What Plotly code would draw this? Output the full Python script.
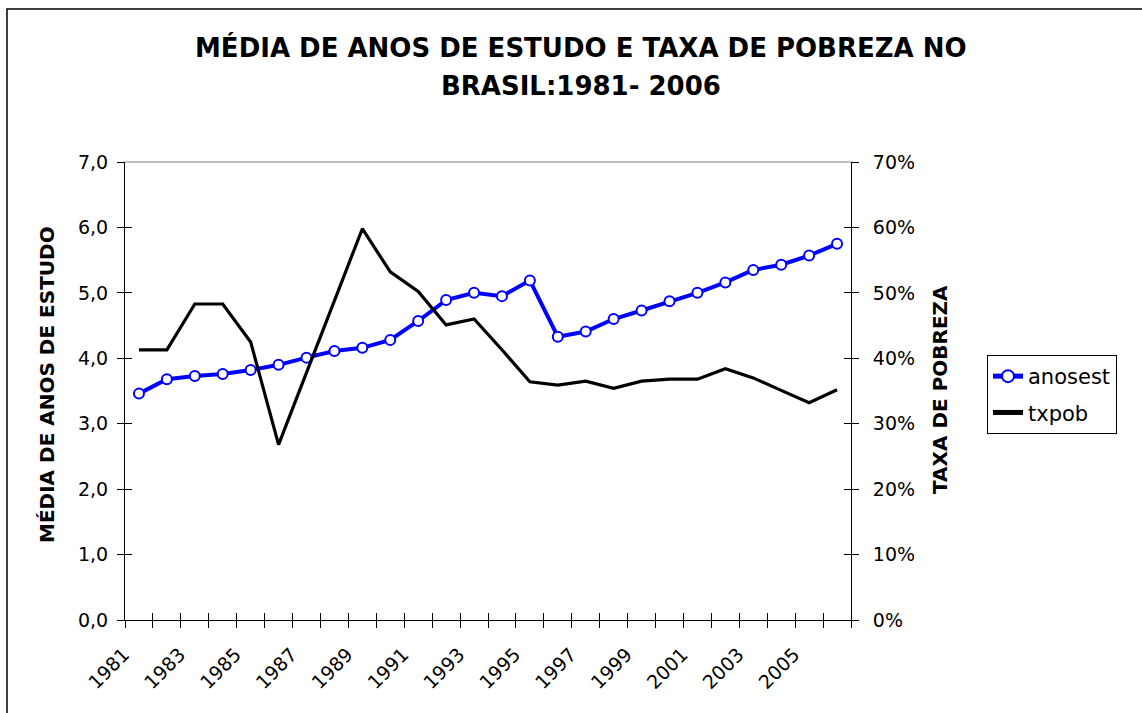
import plotly.graph_objects as go

# ---- data ----
years = list(range(1981, 2007))
anosest = [3.46, 3.68, 3.73, 3.76, 3.82, 3.90, 4.01, 4.11, 4.16, 4.28, 4.57, 4.89, 5.00,
           4.95, 5.19, 4.33, 4.41, 4.60, 4.73, 4.87, 5.00, 5.16, 5.35, 5.43, 5.57, 5.75]
txpob = [41.3, 41.3, 48.3, 48.3, 42.5, 26.8, 37.8, 48.9, 59.8, 53.2, 50.2, 45.1, 46.0,
         41.3, 36.4, 35.9, 36.5, 35.4, 36.5, 36.8, 36.8, 38.4, 37.0, 35.1, 33.2, 35.2]
label_years = years[::2]
x_labels = [str(y) for y in label_years]
left_ticks = [0, 1, 2, 3, 4, 5, 6, 7]
right_ticks = [0, 10, 20, 30, 40, 50, 60, 70]
right_labels = ["%d%%" % v for v in right_ticks]

title_l1 = "MÉDIA DE ANOS DE ESTUDO E TAXA DE POBREZA NO"
title_l2 = "BRASIL:1981- 2006"
ytitle_left = "MÉDIA DE ANOS DE ESTUDO"
ytitle_right = "TAXA DE POBREZA"

FONT = "DejaVu Sans, Liberation Sans, Arial, sans-serif"
W, H = 1142, 713
L, R, T, B = 125, 291, 162, 93
PW, PH = W - L - R, H - T - B


def px(p):
    return (p - L) / PW


def py(q):
    return (H - B - q) / PH


fig = go.Figure()
fig.add_trace(go.Scatter(
    x=years, y=anosest, name="anosest", mode="lines+markers", legendgroup="a",
    line=dict(color="#0000FF", width=4),
    marker=dict(symbol="circle", size=10, color="white",
                line=dict(color="#0000FF", width=2)),
    yaxis="y"))
fig.add_trace(go.Scatter(
    x=years, y=txpob, name="txpob", mode="lines", legendgroup="b",
    line=dict(color="black", width=3.2), yaxis="y2"))
# empty helper traces only used to display the inner half of the crossing tick marks
fig.add_trace(go.Scatter(x=[], y=[], xaxis="x2", yaxis="y3", showlegend=False, hoverinfo="skip"))
fig.add_trace(go.Scatter(x=[], y=[], xaxis="x2", yaxis="y4", showlegend=False, hoverinfo="skip"))

boundaries = [y - 0.5 for y in years] + [years[-1] + 0.5]
xr = [years[0] - 0.5, years[-1] + 0.5]
tickfont = dict(family=FONT, size=19, color="black")

fig.update_layout(
    width=W, height=H,
    margin=dict(l=L, r=R, t=T, b=B),
    paper_bgcolor="white", plot_bgcolor="white",
    separators=",.",
    font=dict(family=FONT, size=19, color="black"),
    showlegend=True,
    legend=dict(x=px(987), y=py(355), xanchor="left", yanchor="top",
                bordercolor="black", borderwidth=1, bgcolor="white",
                font=dict(family=FONT, size=21, color="black"),
                tracegroupgap=6, itemsizing="constant"),
    xaxis=dict(range=xr,
               tickmode="array", tickvals=label_years, ticktext=x_labels,
               tickangle=-45, ticks="", showgrid=False, zeroline=False,
               showline=True, linecolor="black", linewidth=1,
               ticklabelshift=-15, ticklabelstandoff=15,
               tickfont=dict(family=FONT, size=19, color="black"),
               minor=dict(tickmode="array", tickvals=boundaries, ticks="outside",
                          ticklen=7, tickcolor="black", tickwidth=1, showgrid=False)),
    xaxis2=dict(range=xr, overlaying="x", anchor="y", side="bottom",
                tickmode="array", tickvals=boundaries, ticks="inside", ticklen=7,
                tickcolor="black", showticklabels=False, showgrid=False,
                zeroline=False, showline=False),
    yaxis=dict(range=[0, 7], tickmode="array", tickvals=left_ticks,
               tickformat=".1f", ticks="outside", ticklen=7, tickcolor="black",
               showgrid=False, zeroline=False, showline=True, linecolor="black",
               linewidth=1, ticklabelstandoff=5, tickfont=tickfont),
    yaxis2=dict(range=[0, 70], overlaying="y", side="right", tickmode="array",
                tickvals=right_ticks, ticktext=right_labels, ticks="outside", ticklen=7,
                tickcolor="black", showgrid=False, zeroline=False, showline=True,
                linecolor="black", linewidth=1, ticklabelstandoff=10, tickfont=tickfont),
    yaxis3=dict(range=[0, 7], overlaying="y", side="left", anchor="x2",
                tickmode="array", tickvals=left_ticks, ticks="inside", ticklen=7,
                tickcolor="black", showticklabels=False, showgrid=False,
                zeroline=False, showline=False),
    yaxis4=dict(range=[0, 70], overlaying="y", side="right", anchor="x2",
                tickmode="array", tickvals=right_ticks, ticks="inside", ticklen=7,
                tickcolor="black", showticklabels=False, showgrid=False,
                zeroline=False, showline=False),
    shapes=[
        dict(type="line", xref="paper", yref="paper", x0=0, x1=1, y0=1, y1=1,
             line=dict(color="#808080", width=1)),
        dict(type="rect", xref="paper", yref="paper",
             x0=px(7), x1=px(W + 5), y0=py(9), y1=py(H + 5),
             line=dict(color="black", width=1.5)),
    ],
    annotations=[
        dict(text="<b>%s</b>" % title_l1, xref="paper", yref="paper", x=px(581), y=py(47),
             xanchor="center", yanchor="middle", showarrow=False,
             font=dict(family=FONT, size=26, color="black")),
        dict(text="<b>%s</b>" % title_l2, xref="paper", yref="paper", x=px(581), y=py(86),
             xanchor="center", yanchor="middle", showarrow=False,
             font=dict(family=FONT, size=26, color="black")),
        dict(text="<b>%s</b>" % ytitle_left, xref="paper", yref="paper", x=px(47), y=py(385),
             xanchor="center", yanchor="middle", textangle=-90, showarrow=False,
             font=dict(family=FONT, size=20, color="black")),
        dict(text="<b>%s</b>" % ytitle_right, xref="paper", yref="paper", x=px(940), y=py(390),
             xanchor="center", yanchor="middle", textangle=-90, showarrow=False,
             font=dict(family=FONT, size=20, color="black")),
    ],
)

fig.write_html("out.html", config={"displayModeBar": False},
               post_script="document.body.style.margin='0';document.body.style.overflow='hidden';")
